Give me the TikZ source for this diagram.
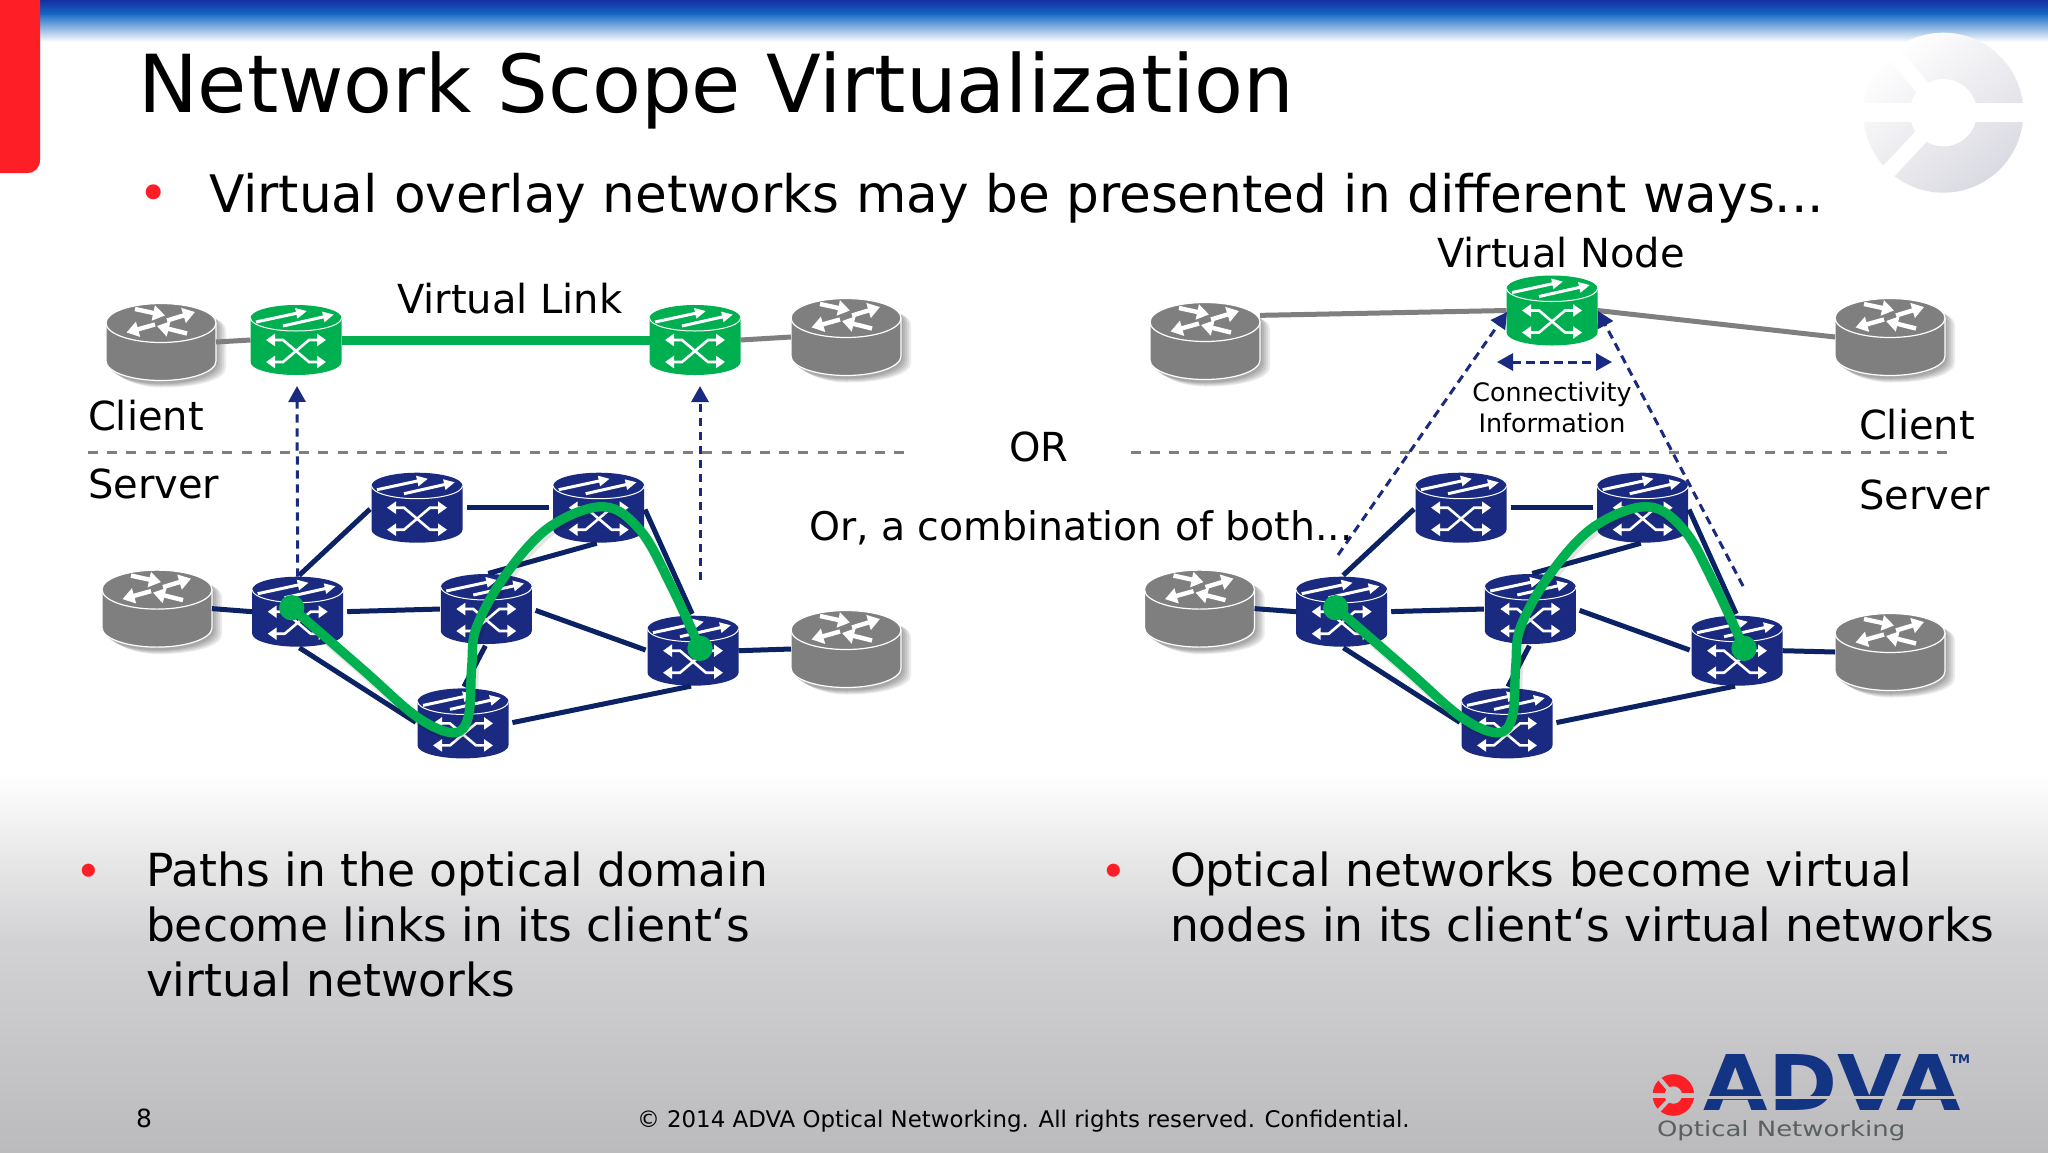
\documentclass[tikz,border=0pt]{standalone}
\usepackage{fontspec}
\setmainfont{DejaVu Sans}
\usetikzlibrary{arrows.meta}
\definecolor{navy}{HTML}{1A2A80}
\definecolor{linkblue}{HTML}{0B2265}
\definecolor{swgreen}{HTML}{00B050}
\definecolor{rtgray}{HTML}{7F7F7F}
\definecolor{slidered}{HTML}{FE1F26}
\definecolor{logoblue}{HTML}{133383}
\definecolor{logogray}{HTML}{5A6060}
\definecolor{bgmid}{HTML}{D2D1D3}
\definecolor{bgend}{HTML}{BBBABC}
\definecolor{logobg}{HTML}{C3C3C5}
\definecolor{banda}{HTML}{1530A5}
\definecolor{bandb}{HTML}{1468C4}
\definecolor{markgray}{HTML}{DADAE2}
\tikzset{
  swbox/.style={rectangle,inner sep=0pt,outer sep=0pt,minimum width=45.5pt,minimum height=35pt},
  rtbox/.style={rectangle,inner sep=0pt,outer sep=0pt,minimum width=55pt,minimum height=38.5pt},
  txt/.style={anchor=base west,inner sep=0pt,outer sep=0pt},
  lbl/.style={txt,font=\fontsize{20}{24}\selectfont},
  big/.style={anchor=north west,inner sep=0pt,outer sep=0pt,align=left,font=\fontsize{22.8}{27.4}\selectfont},
  dot/.style={anchor=center,inner sep=0pt,outer sep=0pt,text=slidered},
  netlink/.style={draw=linkblue,line width=2.5pt},
  graylink/.style={draw=rtgray,line width=2.5pt},
  virtlink/.style={draw=swgreen,line width=4.5pt},
  layer/.style={draw=rtgray,line width=1.5pt,dash pattern=on 5pt off 4.6pt},
  mapdash/.style={draw=navy,line width=1.5pt,dash pattern=on 4.2pt off 2.8pt},
  maptip/.style={-{Triangle[length=8pt,width=8.5pt]}},
  dbltip/.style={{Triangle[length=8pt,width=8.5pt]}-{Triangle[length=8pt,width=8.5pt]}},
  xarrow/.style={draw=white,line width=1.3pt,{Triangle[length=4.5pt,width=6pt]}-{Triangle[length=4.5pt,width=6pt]}},
  toparrow/.style={draw=white,line width=1.5pt,-{Triangle[length=5.5pt,width=5pt]}},
  rtarrow/.style={draw=white,line width=2.2pt,-{Triangle[length=6pt,width=7.5pt]}},
  optpath/.style={draw=swgreen,line width=4.7pt,line cap=round},
  optshadow/.style={draw=black,opacity=.10,line width=5.4pt,line cap=round}
}
% cylinder outline: R, centre of top ellipse, centre of bottom ellipse, ry
\newcommand\cylpath[4]{(-#1,#2) -- (-#1,#3)
  .. controls (-#1,{#3+0.5523*#4}) and ({-0.5523*#1},{#3+#4}) .. (0,{#3+#4})
  .. controls ({0.5523*#1},{#3+#4}) and (#1,{#3+0.5523*#4}) .. (#1,#3)
  -- (#1,#2)
  .. controls (#1,{#2-0.5523*#4}) and ({0.5523*#1},{#2-#4}) .. (0,{#2-#4})
  .. controls ({-0.5523*#1},{#2-#4}) and (-#1,{#2-0.5523*#4}) .. (-#1,#2) -- cycle}
\newcommand\rimpath[3]{(-#1,#2)
  .. controls (-#1,{#2+0.5523*#3}) and ({-0.5523*#1},{#2+#3}) .. (0,{#2+#3})
  .. controls ({0.5523*#1},{#2+#3}) and (#1,{#2+0.5523*#3}) .. (#1,#2)}
% switch: name, x, y, colour
\newcommand\switchat[4]{%
  \node[swbox] (#1) at (#2,#3) {};
  \begin{scope}[shift={(#2,#3)}]
    \fill[#4] \cylpath{45.5}{-22}{22}{13};
    \draw[white,line width=.5pt] \rimpath{45.5}{-22}{13};
    \draw[toparrow] (-40,-18) -- (11,-29);
    \draw[toparrow] (-13,-14) -- (38,-25.5);
    \draw[xarrow,line join=miter] (-30,0) -- (-13,0) -- (13,22) -- (30,22);
    \draw[xarrow,line join=miter] (-30,22) -- (-13,22) -- (13,0) -- (30,0);
  \end{scope}}
% router: name, x, y
\newcommand\routerat[3]{%
  \node[rtbox] (#1) at (#2,#3) {};
  \begin{scope}[shift={(#2,#3)}]
    \foreach \d/\s in {10/7,8/6,6/5,4/4,2/3}{
      \fill[black,opacity=.08] \cylpath{55+\d}{-19+\s}{19+\s}{19.5};
    }
    \filldraw[fill=rtgray,draw=white,line width=.6pt] \cylpath{55}{-19}{19}{19.5};
    \draw[white,line width=.6pt] \rimpath{55}{-19}{19.5};
    \draw[rtarrow] (-26,-33) -- (4,-26.5);
    \draw[rtarrow] (6,-21.5) -- (34,-30);
    \draw[rtarrow] (-6,-17.5) -- (-34.5,-9.5);
    \draw[rtarrow] (26,-8.5) -- (-4,-16);
  \end{scope}}
% ring mark: x, y, R, colour of the gaps
\newcommand\ringgaps[4]{%
  \begin{scope}[shift={(#1,#2)}]
    \fill[#4] (0,0) circle[radius={#3*0.42}];
    \fill[#4] ({-#3*1.05},{-#3*0.12}) rectangle ({#3*1.05},{#3*0.12});
    \fill[#4,rotate=-50] ({-#3*1.05},{-#3*0.095}) rectangle (0,{#3*0.095});
    \fill[#4,rotate=47] ({-#3*1.05},{-#3*0.095}) rectangle (0,{#3*0.095});
  \end{scope}}
\begin{document}
\begin{tikzpicture}[x=.5pt,y=-.5pt]
\useasboundingbox (0,0) rectangle (2048,1152);
% backdrop
\fill[white] (0,0) rectangle (2048,1152);
\shade[top color=white,bottom color=bgmid] (0,773) rectangle (2048,941);
\shade[top color=bgmid,bottom color=bgend] (0,940) rectangle (2048,1152);
\shade[top color=bandb,bottom color=white] (0,13) rectangle (2048,42);
\shade[top color=banda,bottom color=bandb] (0,0) rectangle (2048,14);
\fill[slidered] (0,0) -- (40,0) -- (40,160) .. controls (40,168) and (34,173) .. (28,173) -- (0,173) -- cycle;
% watermark
\shade[top color=white,bottom color=markgray,shading angle=40] (1943.3,112.7) circle[radius=80];
\ringgaps{1943.3}{112.7}{80}{white}
% title and bullets
\node[txt,font=\fontsize{40}{46}\selectfont] (title) at (138,112) {Network Scope Virtualization};
\node[dot,font=\fontsize{25.8}{30}\selectfont] (b0) at (154,198) {•};
\node[txt,font=\fontsize{25.85}{30}\selectfont] (sub) at (209,212) {Virtual overlay networks may be presented in different ways...};
% routers and switches, left
\routerat{ga}{161}{342}
\routerat{gb}{846}{337}
\routerat{gc}{157}{608.6}
\routerat{gd}{846}{649}
\switchat{va}{296}{340}{swgreen}
\switchat{vb}{695}{340}{swgreen}
\switchat{la}{417}{507.7}{navy}
\switchat{lb}{598.7}{507.7}{navy}
\switchat{lc}{297.7}{611.7}{navy}
\switchat{ld}{486.3}{609}{navy}
\switchat{le}{693}{650.7}{navy}
\switchat{lf}{463}{723.4}{navy}
% routers and switches, right
\routerat{ge}{1205}{341}
\routerat{gf}{1890}{337}
\routerat{gg}{1199.5}{608.6}
\routerat{gh}{1890}{652}
\switchat{vn}{1552}{310.5}{swgreen}
\switchat{ra}{1461}{507.7}{navy}
\switchat{rb}{1642.7}{507.7}{navy}
\switchat{rc}{1341.7}{611.7}{navy}
\switchat{rd}{1530.3}{609}{navy}
\switchat{re}{1737}{650.7}{navy}
\switchat{rf}{1507}{723.4}{navy}
% client links
\draw[graylink] (ga.east) -- (va.west);
\draw[virtlink] (va.east) -- (vb.west);
\draw[graylink] (vb.east) -- (gb.west);
\draw[graylink] (ge.25) -- (vn.west);
\draw[graylink] (vn.east) -- (gf.west);
% server links
\foreach \g/\h/\a/\b/\c/\d/\e/\f in {gc/gd/la/lb/lc/ld/le/lf,gg/gh/ra/rb/rc/rd/re/rf}{
  \draw[netlink] (\g.east) -- (\c.west);
  \draw[netlink] (\e.east) -- (\h.west);
  \draw[netlink,shorten <=1pt,shorten >=1pt] (\c.north) -- (\a.west);
  \draw[netlink,shorten <=2pt,shorten >=2pt] (\a.east) -- (\b.west);
  \draw[netlink,shorten <=2pt,shorten >=.5pt] (\c.east) -- (\d.west);
  \draw[netlink,shorten <=1pt,shorten >=1pt] (\c.south) -- (\f.west);
  \draw[netlink,shorten <=2pt,shorten >=1pt] (\f.east) -- (\e.south);
  \draw[netlink,shorten <=2pt,shorten >=1pt] (\d.east) -- (\e.west);
  \draw[netlink,shorten <=1pt,shorten >=1pt] (\b.east) -- (\e.north);
  \draw[netlink,shorten <=1pt,shorten >=1pt] (\d.south) -- (\f.north);
  \draw[netlink,shorten <=1pt,shorten >=1pt] (\d.north) -- (\b.south);
}
% layer separators
\coordinate (sepa) at (88,452); \coordinate (sepb) at (904,452);
\coordinate (sepc) at (1131,452); \coordinate (sepd) at (1947,452);
\draw[layer] (sepa) -- (sepb);
\draw[layer] (sepc) -- (sepd);
% mapping arrows
\coordinate (upa) at (297,386);
\coordinate (fra) at (700,580); \coordinate (upb) at (700,386);
\draw[mapdash,maptip] (lc.north) -- (upa);
\draw[mapdash,maptip] (fra) -- (upb);
\coordinate (frl) at (1338,555); \coordinate (tol) at (1507,312);
\coordinate (frr) at (1743,586); \coordinate (tor) at (1598,311);
\draw[mapdash,maptip] (frl) -- (tol);
\draw[mapdash,maptip] (frr) -- (tor);
\coordinate (cna) at (1497,362); \coordinate (cnb) at (1612,362);
\draw[mapdash,dbltip] (cna) -- (cnb);
% optical paths
\foreach \sx in {0,1044}{
  \begin{scope}[shift={(\sx,0)}]
    \draw[optshadow,shift={(2,3)}] plot[smooth,tension=.6] coordinates {(291.7,607.7) (363.3,670) (416.7,716.7) (453.3,732.7) (468.3,716.7) (471.7,666.7) (476.7,626.7) (506.7,573.3) (550,526.7) (603.3,506.7) (640,530) (670,583.3) (700,648.3)};
    \draw[optpath] plot[smooth,tension=.6] coordinates {(291.7,607.7) (363.3,670) (416.7,716.7) (453.3,732.7) (468.3,716.7) (471.7,666.7) (476.7,626.7) (506.7,573.3) (550,526.7) (603.3,506.7) (640,530) (670,583.3) (700,648.3)};
    \fill[swgreen] (291.7,607.7) circle[radius=12.7];
    \fill[swgreen] (700,648.3) circle[radius=12.7];
  \end{scope}
}
% labels
\node[lbl] (vl) at (397,313) {Virtual Link};
\node[lbl] (cl) at (88,430) {Client};
\node[lbl] (sl) at (88,498) {Server};
\node[lbl] (orl) at (1009,461) {OR};
\node[lbl,font=\fontsize{19.7}{24}\selectfont] (comb) at (809,540) {Or, a combination of both...};
\node[lbl] (vnl) at (1437,267) {Virtual Node};
\node[lbl] (cr) at (1859,439) {Client};
\node[lbl] (sr) at (1859,509) {Server};
\node[anchor=north,inner sep=0pt,align=center,font=\fontsize{12.7}{15.5}\selectfont] (info) at (1552,382) {Connectivity\\Information};
% lower bullets
\node[dot,font=\fontsize{22.6}{27}\selectfont] (b1) at (89,876) {•};
\node[big] (lt) at (146,852) {Paths in the optical domain\\become links in its client‘s\\virtual networks};
\node[dot,font=\fontsize{22.6}{27}\selectfont] (b2) at (1114,876) {•};
\node[big] (rt) at (1170,852) {Optical networks become virtual\\nodes in its client‘s virtual networks};
% footer
\node[txt,font=\fontsize{12.5}{15}\selectfont] (pg) at (136,1127) {8};
\node[txt,font=\fontsize{11.44}{14}\selectfont] (cp) at (637,1127) {© 2014 ADVA Optical Networking. All rights reserved. Confidential.};
% logo
\fill[slidered] (1673.3,1095) circle[radius=20.8];
\ringgaps{1673.3}{1095}{20.8}{logobg}
\node[inner sep=0pt,outer sep=0pt,text=logoblue,anchor=center] (adva) at (1832.5,1082) {\resizebox{128.5pt}{28pt}{\bfseries ADVA}};
\coordinate (stra) at (1700,1095.5); \coordinate (strb) at (1965,1098.5);
\fill[logobg] (stra) rectangle (strb);
\node[txt,text=logoblue,font=\fontsize{6}{7}\selectfont\bfseries] (tm) at (1950,1063) {TM};
\node[txt,text=logogray,font=\fontsize{10.5}{13}\selectfont] (on) at (1657,1136) {\scalebox{1.235}[1]{Optical Networking}};
\end{tikzpicture}
\end{document}
